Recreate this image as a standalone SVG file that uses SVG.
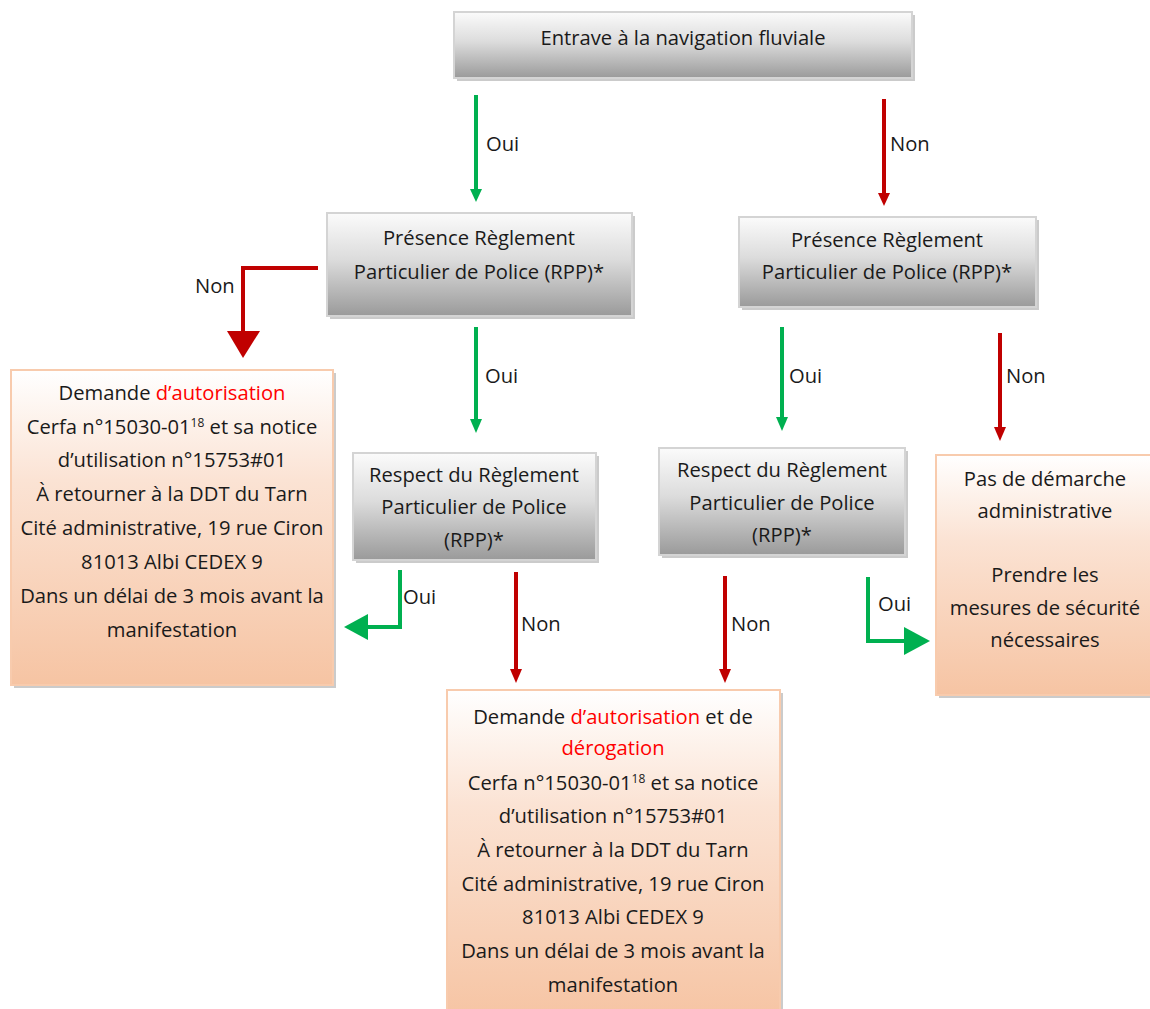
<svg xmlns="http://www.w3.org/2000/svg" width="1150" height="1009" viewBox="0 0 1150 1009">
<defs>
<linearGradient id="gGray" x1="0" y1="0" x2="0" y2="1">
<stop offset="0" stop-color="#fbfbfb"/>
<stop offset="0.45" stop-color="#dcdcdc"/>
<stop offset="1" stop-color="#9a9a9a"/>
</linearGradient>
<linearGradient id="gOrange" x1="0" y1="0" x2="0" y2="1">
<stop offset="0" stop-color="#ffffff"/>
<stop offset="0.35" stop-color="#fbe3d4"/>
<stop offset="1" stop-color="#f6c4a3"/>
</linearGradient>
</defs>
<style>
text{font-family:"Open Sans","Liberation Sans",sans-serif;font-size:20.2px;fill:#1a1a1a;text-anchor:middle}
.lbl{text-anchor:start}
.red{fill:#ff0000}
.sup{font-size:12px}
.gray{fill:url(#gGray);stroke:#d4d4d4;stroke-width:2}
.orange{fill:url(#gOrange);stroke:#f8cbad;stroke-width:2}
.shadow{fill:#a0a0a0;opacity:0.55}
.gline{stroke:#00b050;stroke-width:4;fill:none}
.rline{stroke:#c00000;stroke-width:4;fill:none}
.ghead{fill:#00b050}
.rhead{fill:#c00000}
</style>

<g id="connectors">
<line class="gline" x1="476" y1="95" x2="476" y2="190"/>
<polygon class="ghead" points="470,189 482,189 476,202"/>
<line class="rline" x1="884" y1="99" x2="884" y2="194"/>
<polygon class="rhead" points="878,193 890,193 884,206"/>
<polyline class="rline" points="318,268 243,268 243,332"/>
<polygon class="rhead" points="227,331 260,331 243,358"/>
<line class="gline" x1="476" y1="327" x2="476" y2="420"/>
<polygon class="ghead" points="470,419 482,419 476,433"/>
<line class="gline" x1="782" y1="327" x2="782" y2="418"/>
<polygon class="ghead" points="776,417 788,417 782,431"/>
<line class="rline" x1="1000" y1="333" x2="1000" y2="428"/>
<polygon class="rhead" points="994,427 1006,427 1000,441"/>
<polyline class="gline" points="400,570 400,627 366,627"/>
<polygon class="ghead" points="368,614 368,640 344,627"/>
<line class="rline" x1="516" y1="572" x2="516" y2="670"/>
<polygon class="rhead" points="510,669 522,669 516,683"/>
<line class="rline" x1="725" y1="576" x2="725" y2="670"/>
<polygon class="rhead" points="719,669 731,669 725,683"/>
<polyline class="gline" points="868,577 868,641 906,641"/>
<polygon class="ghead" points="904,627 904,655 930,641"/>
<text class="lbl" x="486" y="151">Oui</text>
<text class="lbl" x="890" y="151">Non</text>
<text class="lbl" x="195" y="293">Non</text>
<text class="lbl" x="485" y="383">Oui</text>
<text class="lbl" x="789" y="383">Oui</text>
<text class="lbl" x="1006" y="383">Non</text>
<text class="lbl" x="403" y="604">Oui</text>
<text class="lbl" x="521" y="631">Non</text>
<text class="lbl" x="731" y="631">Non</text>
<text class="lbl" x="878" y="611">Oui</text>
</g>

<g id="n-entrave">
<rect class="shadow" x="457" y="15" width="458" height="66"/>
<rect class="gray" x="454" y="12" width="458" height="66"/>
<text x="683" y="45">Entrave à la navigation fluviale</text>
</g>

<g id="n-presence-left">
<rect class="shadow" x="330" y="216" width="305" height="103"/>
<rect class="gray" x="327" y="213" width="305" height="103"/>
<text x="479" y="245">Présence Règlement</text>
<text x="479" y="279">Particulier de Police (RPP)*</text>
</g>

<g id="n-presence-right">
<rect class="shadow" x="742" y="220" width="297" height="90"/>
<rect class="gray" x="739" y="217" width="297" height="90"/>
<text x="887" y="247">Présence Règlement</text>
<text x="887" y="279">Particulier de Police (RPP)*</text>
</g>

<g id="n-autorisation-left">
<rect class="shadow" x="14" y="373" width="322" height="315"/>
<rect class="orange" x="11" y="370" width="322" height="315"/>
<text x="172" y="400">Demande <tspan class="red">d’autorisation</tspan></text>
<text x="172" y="434">Cerfa n°15030-01<tspan class="sup" dy="-7">18</tspan><tspan dy="7"> et sa notice</tspan></text>
<text x="172" y="467">d’utilisation n°15753#01</text>
<text x="172" y="501">À retourner à la DDT du Tarn</text>
<text x="172" y="535">Cité administrative, 19 rue Ciron</text>
<text x="172" y="569">81013 Albi CEDEX 9</text>
<text x="172" y="603">Dans un délai de 3 mois avant la</text>
<text x="172" y="637">manifestation</text>
</g>

<g id="n-respect-left">
<rect class="shadow" x="356" y="456" width="243" height="107"/>
<rect class="gray" x="353" y="453" width="243" height="107"/>
<text x="474" y="482">Respect du Règlement</text>
<text x="474" y="514">Particulier de Police</text>
<text x="474" y="547">(RPP)*</text>
</g>

<g id="n-respect-right">
<rect class="shadow" x="662" y="451" width="246" height="107"/>
<rect class="gray" x="659" y="448" width="246" height="107"/>
<text x="782" y="477">Respect du Règlement</text>
<text x="782" y="510">Particulier de Police</text>
<text x="782" y="542">(RPP)*</text>
</g>

<g id="n-pas-demarche">
<rect class="shadow" x="939" y="458" width="220" height="240"/>
<rect class="orange" x="936" y="455" width="220" height="240"/>
<text x="1045" y="486">Pas de démarche</text>
<text x="1045" y="518">administrative</text>
<text x="1045" y="582">Prendre les</text>
<text x="1045" y="615">mesures de sécurité</text>
<text x="1045" y="647">nécessaires</text>
</g>

<g id="n-autorisation-derogation">
<rect class="shadow" x="450" y="693" width="333" height="330"/>
<rect class="orange" x="447" y="690" width="333" height="330"/>
<text x="613" y="724">Demande <tspan class="red">d’autorisation</tspan> et de</text>
<text x="613" y="755" class="red">dérogation</text>
<text x="613" y="790">Cerfa n°15030-01<tspan class="sup" dy="-7">18</tspan><tspan dy="7"> et sa notice</tspan></text>
<text x="613" y="823">d’utilisation n°15753#01</text>
<text x="613" y="857">À retourner à la DDT du Tarn</text>
<text x="613" y="891">Cité administrative, 19 rue Ciron</text>
<text x="613" y="924">81013 Albi CEDEX 9</text>
<text x="613" y="958">Dans un délai de 3 mois avant la</text>
<text x="613" y="992">manifestation</text>
</g>
</svg>
